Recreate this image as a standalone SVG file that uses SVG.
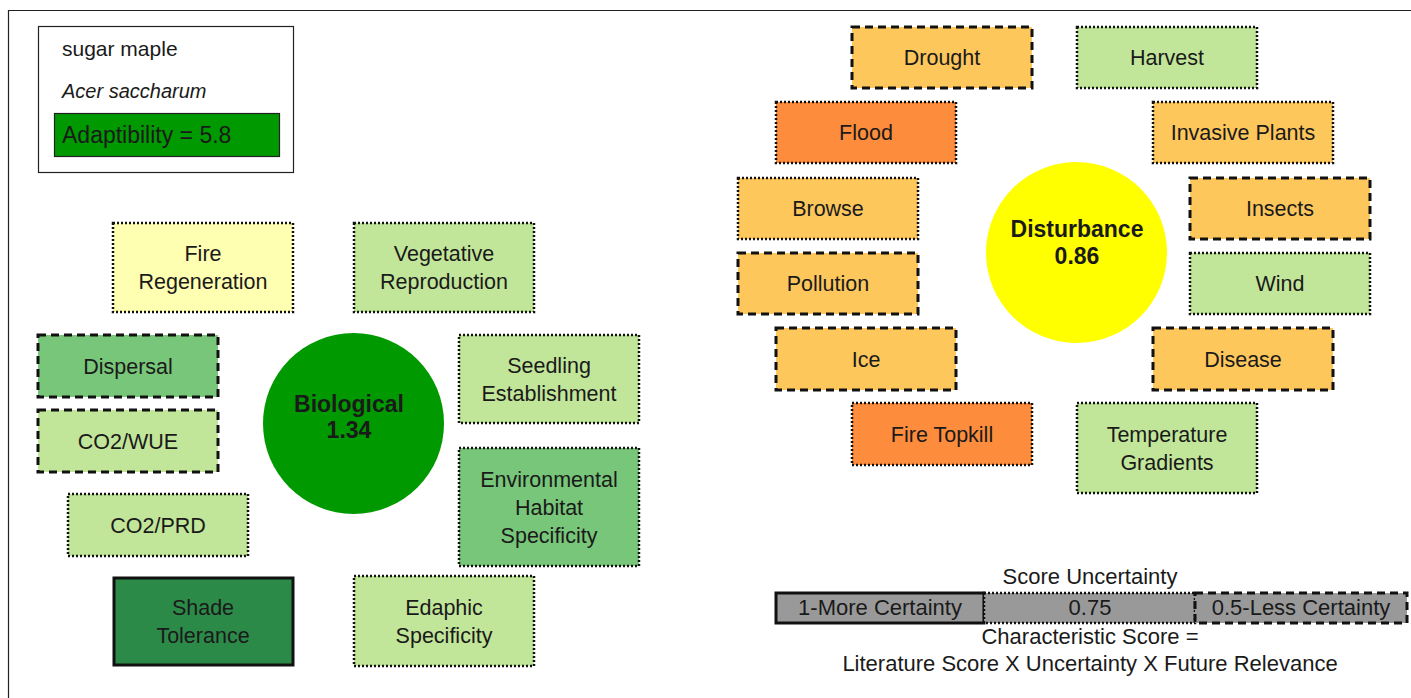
<svg xmlns="http://www.w3.org/2000/svg" width="1411" height="698" viewBox="0 0 1411 698">
<style>
text{font-family:"Liberation Sans",Arial,sans-serif;font-size:21.5px;fill:#1a1a1a;text-anchor:middle}
.lg{text-anchor:start;font-size:21px}
.b{font-weight:bold;font-size:23px}
.f{font-size:22px}
.dot{stroke:#111;stroke-width:2.5;stroke-dasharray:2 2}
.dash{stroke:#111;stroke-width:3;stroke-dasharray:8 5}
.solid{stroke:#111;stroke-width:3}
.lgn{fill:#C2E699}.mgn{fill:#78C679}.dgn{fill:#2C8A48}.ly{fill:#FFFFB2}
.oy{fill:#FEC75C}.or{fill:#FD8D3C}.gr{fill:#999999}
</style>
<rect width="1411" height="698" fill="#ffffff"/>
<path d="M8.5,698 V10.5 H1411" fill="none" stroke="#222" stroke-width="1.2"/>
<g id="legend">
<rect x="38.5" y="26.5" width="255" height="146" fill="#fff" stroke="#222" stroke-width="1.2"/>
<text class="lg" x="62" y="56">sugar maple</text>
<text class="lg" x="62" y="98" style="font-style:italic;font-size:20px">Acer saccharum</text>
<rect x="54.5" y="113.5" width="225" height="43" fill="#009900" stroke="#222" stroke-width="1.2"/>
<text class="lg" x="62" y="143" style="font-size:23px">Adaptibility = 5.8</text>
</g>
<g id="connectors"></g>
<g id="biological">
<circle cx="353.5" cy="423.5" r="90.5" fill="#009900"/>
<text class="b" x="349" y="412">Biological</text>
<text class="b" x="349" y="438">1.34</text>
</g>
<g id="fire-regeneration"><rect class="ly dot" x="113" y="223" width="180" height="89"/><text x="203" y="261">Fire</text><text x="203" y="289">Regeneration</text></g>
<g id="vegetative-reproduction"><rect class="lgn dot" x="354" y="223" width="180" height="89"/><text x="444" y="261">Vegetative</text><text x="444" y="289">Reproduction</text></g>
<g id="dispersal"><rect class="mgn dash" x="38" y="335" width="180" height="62"/><text x="128" y="374">Dispersal</text></g>
<g id="co2-wue"><rect class="lgn dash" x="38" y="410" width="180" height="62"/><text x="128" y="449">CO2/WUE</text></g>
<g id="co2-prd"><rect class="lgn dot" x="68" y="494" width="180" height="62"/><text x="158" y="533">CO2/PRD</text></g>
<g id="shade-tolerance"><rect class="dgn solid" x="114" y="578" width="179" height="87"/><text x="203" y="615">Shade</text><text x="203" y="643">Tolerance</text></g>
<g id="seedling-establishment"><rect class="lgn dot" x="459" y="335" width="180" height="88"/><text x="549" y="373">Seedling</text><text x="549" y="401">Establishment</text></g>
<g id="environmental-habitat-specificity"><rect class="mgn dot" x="459" y="448" width="180" height="118"/><text x="549" y="487">Environmental</text><text x="549" y="515">Habitat</text><text x="549" y="543">Specificity</text></g>
<g id="edaphic-specificity"><rect class="lgn dot" x="354" y="576" width="180" height="90"/><text x="444" y="615">Edaphic</text><text x="444" y="643">Specificity</text></g>
<g id="disturbance">
<circle cx="1076.5" cy="252.5" r="90.5" fill="#FFFF00"/>
<text class="b" x="1077" y="237">Disturbance</text>
<text class="b" x="1077" y="264">0.86</text>
</g>
<g id="drought"><rect class="oy dash" x="852" y="27" width="180" height="61"/><text x="942" y="65">Drought</text></g>
<g id="harvest"><rect class="lgn dot" x="1077" y="27" width="180" height="61"/><text x="1167" y="65">Harvest</text></g>
<g id="flood"><rect class="or dot" x="776" y="102" width="180" height="61"/><text x="866" y="140">Flood</text></g>
<g id="invasive-plants"><rect class="oy dot" x="1153" y="102" width="180" height="61"/><text x="1243" y="140">Invasive Plants</text></g>
<g id="browse"><rect class="oy dot" x="738" y="178" width="180" height="61"/><text x="828" y="216">Browse</text></g>
<g id="insects"><rect class="oy dash" x="1190" y="178" width="180" height="61"/><text x="1280" y="216">Insects</text></g>
<g id="pollution"><rect class="oy dash" x="738" y="253" width="180" height="61"/><text x="828" y="291">Pollution</text></g>
<g id="wind"><rect class="lgn dot" x="1190" y="253" width="180" height="61"/><text x="1280" y="291">Wind</text></g>
<g id="ice"><rect class="oy dash" x="776" y="328" width="180" height="62"/><text x="866" y="366.5">Ice</text></g>
<g id="disease"><rect class="oy dash" x="1153" y="328" width="180" height="62"/><text x="1243" y="366.5">Disease</text></g>
<g id="fire-topkill"><rect class="or dot" x="852" y="403" width="180" height="62"/><text x="942" y="441.5">Fire Topkill</text></g>
<g id="temperature-gradients"><rect class="lgn dot" x="1077" y="403" width="180" height="90"/><text x="1167" y="442">Temperature</text><text x="1167" y="470">Gradients</text></g>
<g id="uncertainty-legend">
<text class="f" x="1090" y="584">Score Uncertainty</text>
<rect class="gr solid" x="776" y="593" width="208" height="30"/>
<text class="f" x="880" y="615">1-More Certainty</text>
<rect class="gr dot" x="984" y="593" width="211" height="30"/>
<text class="f" x="1090" y="615">0.75</text>
<rect class="gr dash" x="1195" y="593" width="212" height="30"/>
<text class="f" x="1301" y="615">0.5-Less Certainty</text>
<text class="f" x="1090" y="644">Characteristic Score =</text>
<text class="f" x="1090" y="671">Literature Score X Uncertainty X Future Relevance</text>
</g>
</svg>
